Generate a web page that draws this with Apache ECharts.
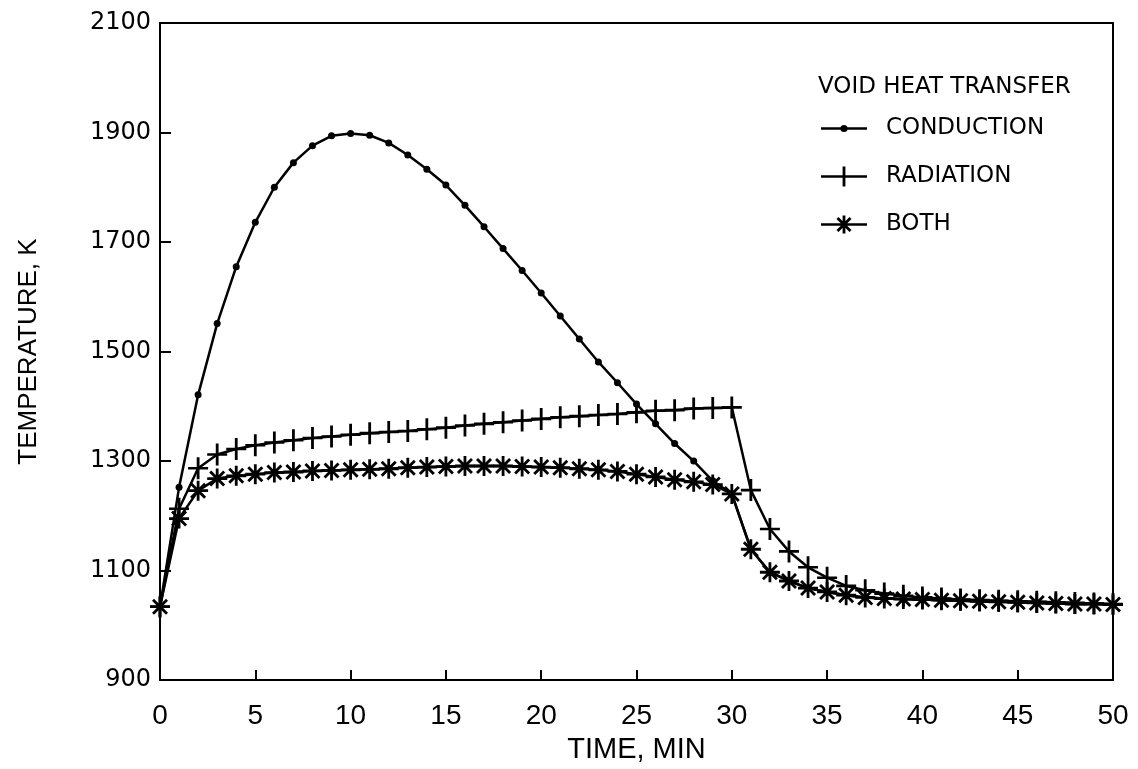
<!DOCTYPE html>
<html>
<head>
<meta charset="utf-8">
<title>Void heat transfer</title>
<script src="https://cdn.jsdelivr.net/npm/echarts@6/dist/echarts.min.js"></script>
<style>
  html, body { margin: 0; padding: 0; background: #fff; }
  #chart { width: 1138px; height: 769px; }
</style>
</head>
<body>
<div id="chart"></div>
<script>
// Time axis, minutes (one sample per minute)
const timeMin = [0,1,2,3,4,5,6,7,8,9,10,11,12,13,14,15,16,17,18,19,20,21,22,23,24,25,26,27,28,29,30,31,32,33,34,35,36,37,38,39,40,41,42,43,44,45,46,47,48,49,50];

// Temperature, K — conduction only
const conduction = [1034,1252,1421,1551,1655,1736,1800,1845,1876,1894,1898,1895,1881,1859,1833,1804,1767,1728,1688,1648,1607,1565,1523,1481,1443,1404,1368,1332,1300,1264,1240,1139,1097,1081,1068,1061,1055,1051,1049,1048,1047,1046,1045,1044,1043,1042,1041,1040,1039,1039,1038];

// Temperature, K — radiation only
const radiation = [1034,1213,1287,1312,1322,1329,1334,1338,1342,1345,1348,1351,1353,1355,1358,1361,1365,1368,1371,1374,1377,1380,1382,1384,1386,1389,1392,1393,1396,1397,1398,1247,1176,1135,1106,1087,1072,1064,1058,1054,1051,1049,1047,1046,1045,1044,1043,1042,1041,1040,1039];

// Temperature, K — conduction and radiation together
const both = [1034,1195,1246,1268,1273,1276,1279,1280,1282,1283,1284,1285,1286,1288,1289,1290,1291,1291,1291,1290,1289,1288,1286,1284,1281,1276,1271,1266,1262,1257,1240,1139,1097,1081,1068,1061,1055,1051,1049,1048,1047,1046,1045,1044,1043,1042,1041,1040,1039,1039,1038];

const seriesNames = ['CONDUCTION', 'RADIATION', 'BOTH'];
const legendTitle = 'VOID HEAT TRANSFER';

// Marker shapes built from thin filled bars
const plusPath = 'path://M-1.4,-11 L1.4,-11 L1.4,11 L-1.4,11 Z M-10,-1.3 L10,-1.3 L10,1.3 L-10,1.3 Z';
const starBody = 'M-1.4,-10 L1.4,-10 L1.4,10 L-1.4,10 Z M-10,-1.4 L10,-1.4 L10,1.4 L-10,1.4 Z ' +
  'M-8,-6 L-6,-8 L8,6 L6,8 Z M-8,6 L6,-8 L8,-6 L-6,8 Z';
const starPath = 'path://' + starBody;

// Legend keys: a short line segment with the marker in its middle (46 x 20 box)
const keyLine = 'M-23,-1.3 L23,-1.3 L23,1.3 L-23,1.3 Z';
const keyBox = ' M0,-10 L0.01,-10 L0,-10 Z M0,10 L0.01,10 L0,10 Z';
const keyConduction = 'path://' + keyLine + ' M-3.6,0 A3.6,3.6 0 1,1 3.6,0 A3.6,3.6 0 1,1 -3.6,0 Z' + keyBox;
const keyRadiation = 'path://' + keyLine + ' M-1.4,-10 L1.4,-10 L1.4,10 L-1.4,10 Z';
const keyBoth = 'path://' + keyLine + ' M-1.4,-9 L1.4,-9 L1.4,9 L-1.4,9 Z ' +
  'M-7.5,-5.5 L-5.5,-7.5 L7.5,5.5 L5.5,7.5 Z M-7.5,5.5 L5.5,-7.5 L7.5,-5.5 L-5.5,7.5 Z' + keyBox;

const pairs = arr => timeMin.map((t, i) => [t, arr[i]]);

const chart = echarts.init(document.getElementById('chart'), null, { renderer: 'canvas' });

chart.setOption({
  backgroundColor: '#ffffff',
  animation: false,
  title: {
    text: legendTitle,
    left: 813,
    top: 71,
    textStyle: { fontFamily: 'DejaVu Sans', fontSize: 23, fontWeight: 'normal', color: '#000' }
  },
  legend: {
    orient: 'vertical',
    left: 816,
    top: 112,
    itemWidth: 46,
    itemHeight: 20,
    itemGap: 25,
    textStyle: { fontFamily: 'DejaVu Sans', fontSize: 23, color: '#000', padding: [0, 0, 0, 14] },
    data: [
      { name: seriesNames[0], icon: keyConduction },
      { name: seriesNames[1], icon: keyRadiation },
      { name: seriesNames[2], icon: keyBoth }
    ]
  },
  grid: {
    left: 160, right: 25, top: 23, bottom: 84,
    show: true, borderColor: '#000', borderWidth: 2
  },
  xAxis: {
    type: 'value',
    min: 0, max: 50, interval: 5,
    name: 'TIME, MIN',
    nameLocation: 'middle',
    nameGap: 54,
    nameTextStyle: { fontFamily: 'Liberation Sans', fontSize: 29, color: '#000' },
    axisLine: { lineStyle: { color: '#000', width: 2 } },
    axisTick: { inside: true, length: 10, lineStyle: { color: '#000', width: 2 } },
    axisLabel: { margin: 22, fontFamily: 'Liberation Sans', fontSize: 28, color: '#000' },
    splitLine: { show: false }
  },
  yAxis: {
    type: 'value',
    min: 900, max: 2100, interval: 200,
    name: 'TEMPERATURE, K',
    nameLocation: 'middle',
    nameGap: 118,
    nameTextStyle: { fontFamily: 'Liberation Sans', fontSize: 26, color: '#000' },
    axisLine: { lineStyle: { color: '#000', width: 2 } },
    axisTick: { inside: true, length: 11, lineStyle: { color: '#000', width: 2 } },
    axisLabel: {
      margin: 9, fontFamily: 'DejaVu Sans', fontSize: 24, color: '#000',
      formatter: v => String(v)
    },
    splitLine: { show: false }
  },
  series: [
    {
      name: seriesNames[0],
      type: 'line',
      data: pairs(conduction),
      symbol: 'circle',
      symbolSize: 7,
      showAllSymbol: true,
      lineStyle: { color: '#000', width: 2.5 },
      itemStyle: { color: '#000' },
      z: 2
    },
    {
      name: seriesNames[1],
      type: 'line',
      data: pairs(radiation),
      symbol: plusPath,
      symbolSize: [20, 22],
      showAllSymbol: true,
      lineStyle: { color: '#000', width: 2.5 },
      itemStyle: { color: '#000' },
      z: 3
    },
    {
      name: seriesNames[2],
      type: 'line',
      data: pairs(both),
      symbol: starPath,
      symbolSize: 20,
      showAllSymbol: true,
      lineStyle: { color: '#000', width: 2.5 },
      itemStyle: { color: '#000' },
      z: 4
    }
  ]
});
</script>
</body>
</html>
